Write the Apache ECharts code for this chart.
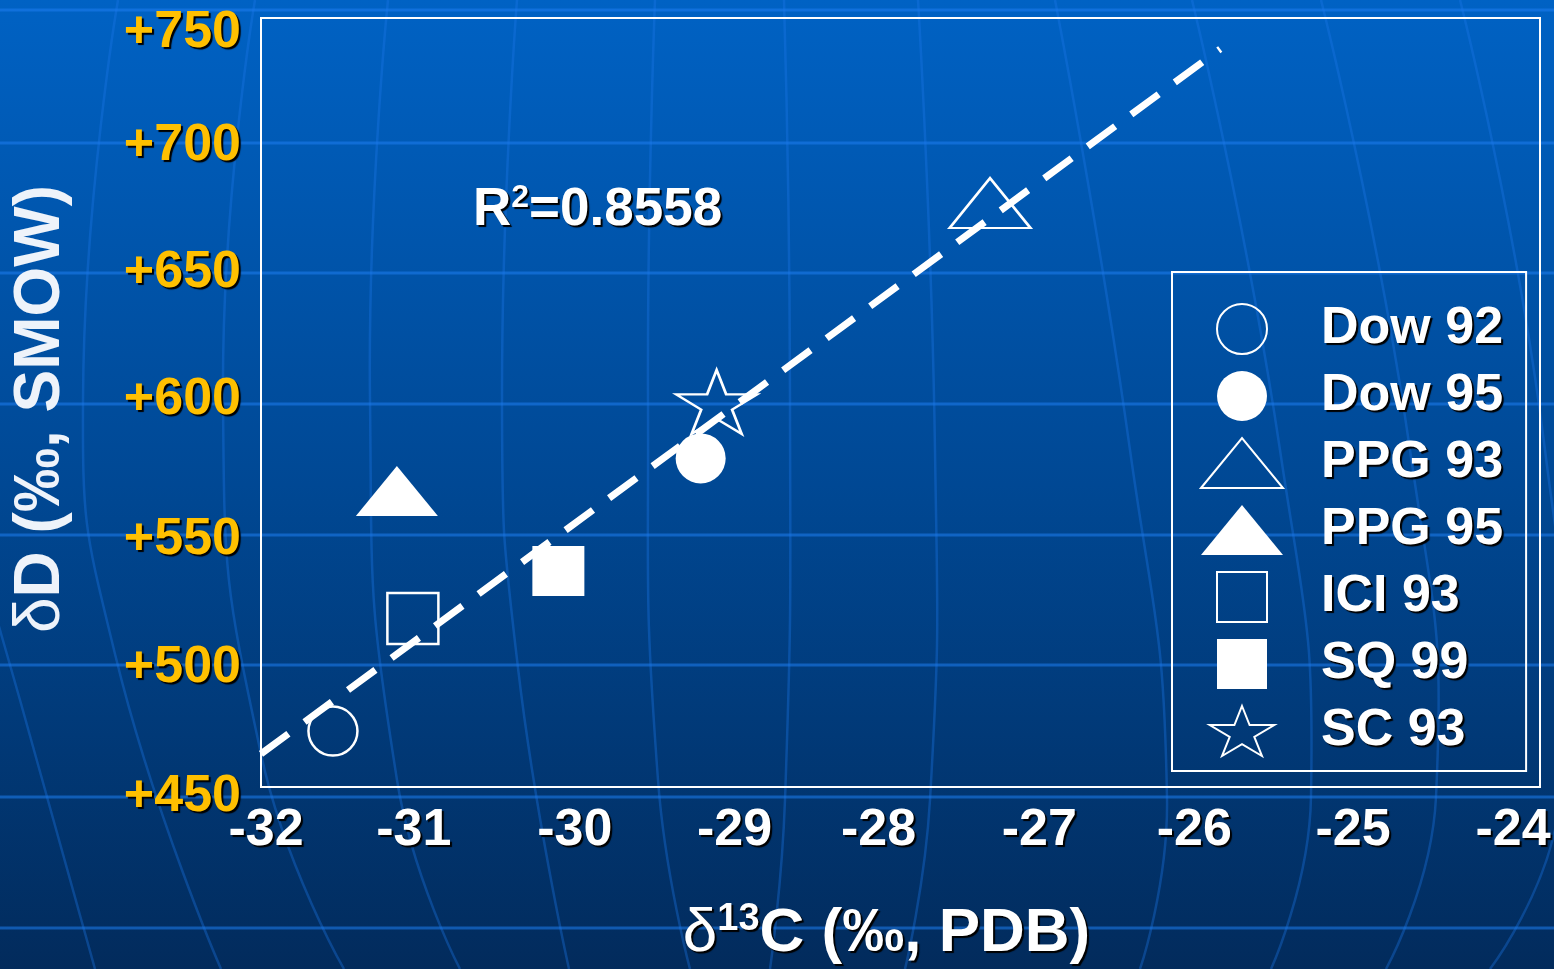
<!DOCTYPE html>
<html>
<head>
<meta charset="utf-8">
<script src="https://cdn.jsdelivr.net/npm/echarts@6/dist/echarts.min.js"></script>
<style>
  html, body { margin: 0; padding: 0; }
  #chart { width: 1554px; height: 969px; }
</style>
</head>
<body>
<div id="chart"></div>
<script>
// data
const sampleNames = ['Dow 92', 'Dow 95', 'PPG 93', 'PPG 95', 'ICI 93', 'SQ 99', 'SC 93'];
const d13C = [-31.55, -29.25, -27.44, -31.15, -31.05, -30.14, -29.15];
const dD = [471.8, 578.2, 677.8, 565.5, 515.7, 534.3, 600.2];
const fitX = [-32, -26.0];
const fitY = [462.9, 737.9];
const xTickLabels = ['-32', '-31', '-30', '-29', '-28', '-27', '-26', '-25', '-24'];
const yTickLabels = ['+450', '+500', '+550', '+600', '+650', '+700', '+750'];
const r2Text = '0.8558';

// on the slide the tick texts sit a little off their ticks (px)
const xLabelShift = [5, -7, -6, -6, -22, -21, -26, -27, -27];
const yLabelShift = [10, 9, 9, -3, -2, -1, 15];

const TRI = 'path://M0,50 L41,0 L82,50 Z';
const SQR = 'path://M0,0 L50,0 L50,50 L0,50 Z';
const STAR = 'path://M64.5,0 L79.7,38.2 L129,38.2 L89.1,61.8 L104.4,100 L64.5,76.4 L24.6,100 L39.9,61.8 L0,38.2 L49.3,38.2 Z';

// marker look per sample (open = outline only)
const markers = [
  { symbol: 'circle', size: 49, open: true },
  { symbol: 'circle', size: 50, open: false },
  { symbol: TRI, size: [81, 50], open: true },
  { symbol: TRI, size: [82, 50], open: false },
  { symbol: SQR, size: [51, 51], open: true },
  { symbol: SQR, size: [52, 50], open: false },
  { symbol: STAR, size: [81, 64], open: true }
];

const shadow = { textShadowColor: '#000', textShadowOffsetX: 2, textShadowOffsetY: 2, textShadowBlur: 1 };
const FONT = '"Liberation Sans", Arial, sans-serif';

const scatterSeries = sampleNames.map(function (name, i) {
  const m = markers[i];
  return {
    name: name,
    type: 'scatter',
    symbol: m.symbol,
    symbolSize: m.size,
    symbolKeepAspect: false,
    itemStyle: m.open
      ? { color: 'rgba(0,0,0,0)', borderColor: '#fff', borderWidth: 2.5, opacity: 1 }
      : { color: '#fff', borderWidth: 0, opacity: 1 },
    emphasis: { disabled: true },
    z: 3,
    data: [[d13C[i], dD[i]]]
  };
});

const xRich = {};
xLabelShift.forEach(function (d, i) {
  xRich['x' + i] = Object.assign({
    color: '#fff', fontSize: 52, fontWeight: 'bold', fontFamily: FONT,
    padding: d < 0 ? [0, -2 * d, 0, 0] : [0, 0, 0, 2 * d]
  }, shadow);
});
const yRich = {};
yLabelShift.forEach(function (d, i) {
  yRich['y' + i] = Object.assign({
    color: '#ffc000', fontSize: 52, fontWeight: 'bold', fontFamily: FONT,
    padding: d < 0 ? [0, 0, -2 * d, 0] : [2 * d, 0, 0, 0]
  }, shadow);
});

// slide template: faint latitude / meridian lines
const bgStyle = { stroke: 'rgba(30,125,240,0.55)', lineWidth: 3, fill: null };
const curveStyle = { stroke: 'rgba(30,120,235,0.35)', lineWidth: 2.5, fill: null };
const bgLines = [10, 143, 273, 404, 535, 665, 797, 928].map(function (y) {
  return { type: 'line', z: -1, silent: true, shape: { x1: 0, y1: y, x2: 1554, y2: y }, style: bgStyle };
});
const meridians = [
  [[-20, 560], [20, 700], [95, 969]],
  [[118, 0], [83, 400], [115, 654], [221, 969]],
  [[255, 0], [223, 400], [261, 754], [344, 969]],
  [[388, 0], [370, 400], [397, 780], [460, 969]],
  [[517, 0], [502, 400], [518, 668], [569, 969]],
  [[655, 0], [648, 400], [658, 780], [690, 969]],
  [[784, 0], [790, 400], [785, 800], [770, 969]],
  [[918, 0], [935, 450], [930, 800], [905, 969]],
  [[1055, 0], [1130, 450], [1167, 797], [1140, 969]],
  [[1192, 0], [1280, 450], [1311, 797], [1271, 969]],
  [[1321, 0], [1410, 450], [1436, 797], [1386, 969]],
  [[1460, 0], [1545, 450], [1560, 800], [1490, 969]]
].map(function (pts) {
  return { type: 'polyline', z: -1, silent: true, shape: { points: pts, smooth: 0.5 }, style: curveStyle };
});

const myChart = echarts.init(document.getElementById('chart'));
myChart.setOption({
  backgroundColor: new echarts.graphic.LinearGradient(0, 0, 0, 1, [
    { offset: 0, color: '#0062c4' },
    { offset: 0.5, color: '#004894' },
    { offset: 1, color: '#022b5c' }
  ]),
  animation: false,
  textStyle: { fontFamily: FONT },
  grid: {
    left: 261, right: 14, top: 18, bottom: 182,
    outerBoundsMode: 'none',
    containLabel: false,
    show: true, borderColor: '#fff', borderWidth: 2,
    backgroundColor: 'transparent'
  },
  xAxis: {
    type: 'value', min: -32, max: -24, interval: 1,
    axisLine: { show: false }, axisTick: { show: false }, splitLine: { show: false },
    axisLabel: Object.assign({
      color: '#fff', fontSize: 52, fontWeight: 'bold', margin: 18, fontFamily: FONT,
      formatter: function (v) {
        const i = Math.round(v + 32);
        return '{x' + i + '|' + xTickLabels[i] + '}';
      },
      rich: xRich
    }, shadow),
    name: '{d|δ}{s|13}{t|C (‰, PDB)}',
    nameLocation: 'middle',
    nameGap: 114,
    nameTextStyle: {
      padding: [0, 28, 0, 0],
      rich: {
        d: Object.assign({ color: '#fff', fontSize: 62, fontFamily: FONT, lineHeight: 66 }, shadow),
        s: Object.assign({ color: '#fff', fontSize: 38, fontWeight: 'bold', fontFamily: FONT, verticalAlign: 'top', lineHeight: 42 }, shadow),
        t: Object.assign({ color: '#fff', fontSize: 62, fontWeight: 'bold', fontFamily: FONT, lineHeight: 66 }, shadow)
      }
    }
  },
  yAxis: {
    type: 'value', min: 450, max: 750, interval: 50,
    axisLine: { show: false }, axisTick: { show: false }, splitLine: { show: false },
    axisLabel: Object.assign({
      color: '#ffc000', fontSize: 52, fontWeight: 'bold', margin: 20, fontFamily: FONT,
      formatter: function (v) {
        const i = Math.round((v - 450) / 50);
        return '{y' + i + '|' + yTickLabels[i] + '}';
      },
      rich: yRich
    }, shadow),
    name: '{d|δ}{t|D (‰, SMOW)}',
    nameLocation: 'middle',
    nameRotate: 90,
    nameGap: 187,
    nameTextStyle: {
      padding: [0, 13, 0, 0],
      rich: {
        d: { color: '#eef3fa', fontSize: 64, fontFamily: FONT, lineHeight: 66 },
        t: { color: '#eef3fa', fontSize: 64, fontWeight: 'bold', fontFamily: FONT, lineHeight: 66 }
      }
    }
  },
  legend: {
    data: sampleNames,
    orient: 'vertical',
    left: 1172, top: 272,
    padding: [31, 23, 14, 28],
    itemWidth: 120, itemHeight: 50, itemGap: 15,
    borderColor: '#fff', borderWidth: 2,
    selectedMode: false,
    textStyle: Object.assign({
      color: '#fff', fontSize: 52, fontWeight: 'bold', fontFamily: FONT,
      padding: [0, 0, 0, 14]
    }, shadow)
  },
  graphic: bgLines.concat(meridians, [{
    type: 'text',
    left: 473, top: 182,
    z: 5,
    style: {
      text: '{a|R}{s|2}{a|=' + r2Text + '}',
      rich: {
        a: Object.assign({ fill: '#fff', fontSize: 53, fontWeight: 'bold', fontFamily: FONT, lineHeight: 56 }, shadow),
        s: Object.assign({ fill: '#fff', fontSize: 32, fontWeight: 'bold', fontFamily: FONT, verticalAlign: 'top', lineHeight: 36 }, shadow)
      }
    }
  }]),
  series: [{
    name: 'fit',
    type: 'line',
    symbol: 'none',
    silent: true,
    z: 2,
    lineStyle: { color: '#fff', width: 7, type: [34, 20], cap: 'butt' },
    data: fitX.map(function (x, i) { return [x, fitY[i]]; })
  }].concat(scatterSeries)
});
</script>
</body>
</html>
